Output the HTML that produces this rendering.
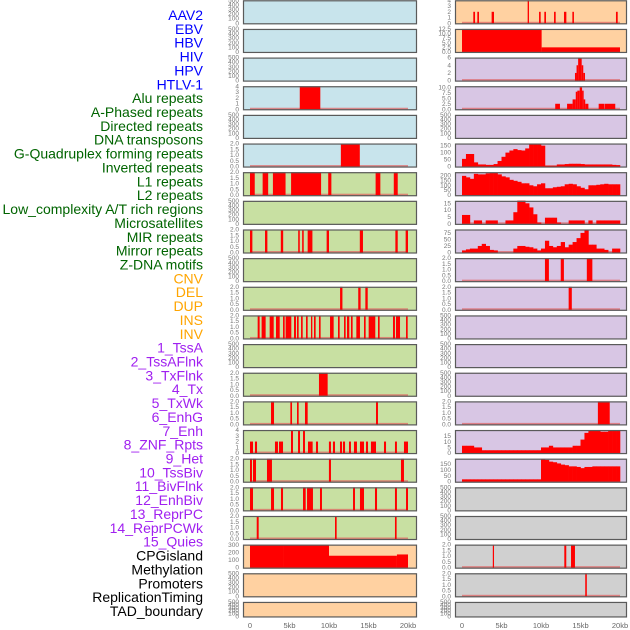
<!DOCTYPE html>
<html><head><meta charset="utf-8"><style>
body{margin:0;background:#fff;width:630px;height:630px;overflow:hidden}
svg{display:block;font-family:"Liberation Sans",sans-serif}
</style></head><body>
<svg id="c" width="630" height="630"></svg>
<script>
const labels=["AAV2","EBV","HBV","HIV","HPV","HTLV-1","Alu repeats","A-Phased repeats","Directed repeats","DNA transposons","G-Quadruplex forming repeats","Inverted repeats","L1 repeats","L2 repeats","Low_complexity A/T rich regions","Microsatellites","MIR repeats","Mirror repeats","Z-DNA motifs","CNV","DEL","DUP","INS","INV","1_TssA","2_TssAFlnk","3_TxFlnk","4_Tx","5_TxWk","6_EnhG","7_Enh","8_ZNF_Rpts","9_Het","10_TssBiv","11_BivFlnk","12_EnhBiv","13_ReprPC","14_ReprPCWk","15_Quies","CPGisland","Methylation","Promoters","ReplicationTiming","TAD_boundary"];
const labelGroups=[6,13,5,15,5];
const groupColors=["#0000ff","#006400","#ffa500","#a020f0","#000000"];
const panelFills=["#c8e4ec","#c8e0a2","#ffd1a1","#d8c6e4","#d0d0d0"];
const xTickLabels=["0","5kb","10kb","15kb","20kb"];
const xTickValues=[0,5,10,15,20];
const hivSegs=[[6.3,8.9,4]];
const htlvSegs=[[11.5,13.9,2]];
const aluSegs=[[0,0.6,2],[1.6,2.3,2],[2.9,4.5,2],[5.2,9.0,2],[9.9,10.3,2],[15.9,16.5,2],[18.2,18.7,2]];
const directedSegs=[[0,0.3,2],[1.9,2.2,2],[3.9,4.2,2],[6.1,6.3,2],[6.6,6.8,2],[7.3,7.9,2],[9.7,10,2],[13.9,14.3,2],[18.4,18.7,2],[19.7,20,2]];
const gquadSegs=[[11.4,11.7,2],[13.7,14.0,2],[14.6,14.9,2]];
const invertedSegs=[[0.97,1.22,2],[1.47,1.98,2],[2.49,3.0,2],[3.29,3.76,2],[4.18,4.39,2],[4.51,5.23,2],[5.57,5.82,2],[5.95,6.16,2],[6.46,6.67,2],[7.09,7.3,2],[7.72,7.89,2],[8.1,8.31,2],[8.73,8.94,2],[10.13,10.59,2],[11.14,11.35,2],[11.9,12.11,2],[12.28,12.57,2],[12.78,12.99,2],[13.46,13.92,2],[14.43,14.64,2],[15.02,15.86,2],[16.2,16.41,2],[18.1,18.35,2],[18.48,18.99,2],[19.75,19.96,2]];
const l2Segs=[[8.73,9.83,2]];
const microSegs=[[2.66,3.04,2],[5.11,5.32,2],[5.95,6.16,2],[6.96,7.3,2],[15.95,16.2,2]];
const mirSegs=[[0,0.38,2],[0.63,0.89,2],[3.16,3.54,2],[3.67,4.18,2],[5.19,5.44,4],[6.08,6.33,4],[6.71,6.96,4],[7.34,7.93,2],[8.35,8.61,2],[9.99,10.25,2],[10.5,10.76,2],[11.39,11.65,2],[11.77,12.03,2],[12.53,12.78,2],[13.16,13.54,2],[13.92,14.43,2],[14.68,14.94,2],[15.31,15.95,2],[16.96,17.22,2],[18.35,18.6,2],[19.49,20,2]];
const mirrorSegs=[[0,0.25,2],[0.38,0.76,2],[2.15,2.78,2],[9.99,10.25,2],[19.11,19.49,2]];
const zdnaSegs=[[0,0.38,2],[2.66,3.04,2],[3.92,4.18,2],[6.71,7.05,2],[7.22,7.97,2],[8.86,9.11,2],[13.04,13.29,2],[13.92,14.43,2],[15.82,16.08,2],[18.35,18.6,2],[19.75,20,2]];
const leftR18Segs=[[0.85,1.1,2],[10.76,10.97,2],[18.35,18.56,2]];
const leftR19Segs=[[0,4.3,300],[4.3,10,300],[10,18.6,158],[18.6,20,175]];
const r0Segs=[[1.43,1.65,2],[1.94,2.15,2],[3.75,4.05,2],[8.31,8.48,4],[9.75,9.96,2],[10.42,10.63,2],[11.65,11.86,2],[12.91,13.21,2],[13.97,14.17,2],[19.49,19.71,2]];
const r1Segs=[[0,10.08,12.5],[10.08,20,2.5]];
const r2Segs=[[14.3,14.5,2],[14.5,14.7,4],[14.7,15.15,6],[15.15,15.35,4],[15.35,15.57,2]];
const r3Segs=[[11.8,12.4,2.5],[13.3,14.0,2.5],[14.0,14.4,4.5],[14.4,14.6,8],[14.6,14.9,8.5],[14.9,15.2,10],[15.2,15.4,8.5],[15.4,15.6,4.5],[15.6,16.0,2.5],[17.3,18.0,2.5],[18.05,19.4,2.5]];
const r9Segs=[[10.5,11.0,2],[12.5,12.9,2],[15.8,16.5,2]];
const r10Segs=[[13.5,13.9,2]];
const r14Segs=[[17.2,18.7,2]];
const r19Segs=[[3.9,4.05,2],[12.95,13.2,2],[13.8,14.3,2]];
const r20Segs=[[15.6,15.8,2]];
const r5Bins=[55,90,90,30,15,15,12,12,18,40,70,100,115,125,118,115,130,160,162,160,150,5,5,5,15,15,18,20,20,20,18,15,15,15,15,15,15,15,12,10];
const r6Bins=[195,180,165,215,210,210,220,225,225,210,190,180,155,145,135,120,120,100,90,110,120,70,70,80,85,90,110,115,110,90,75,60,100,100,105,110,115,110,110,110];
const r7Bins=[6.5,6.5,0,2.5,2.5,0,2.5,2.5,2.5,0,0,2.5,2.5,8.5,17,17,15,12,7,1,0,4.5,4.5,4.5,1,0,0,2.5,2.5,2.5,2.5,0,2.5,0,2.5,2.5,2.5,2.5,2.5,2.5];
const r8Bins=[8,12,15,15,25,33,25,10,8,0,0,0,0,15,25,25,22,20,15,8,15,45,25,20,25,40,20,30,40,55,75,85,30,30,15,15,10,0,15,15];
const r15Bins=[6.5,6.5,6.5,5,5,2.5,2.5,2.5,2.5,2.5,2.5,2.5,2.5,2.5,2.5,2.5,2.5,2.5,2.5,2.5,5,5,6.5,5,5,5,5,5,6.5,6.5,12,18,20,20,20,19,19,20,20,20];
const r16Bins=[20,20,20,20,20,20,20,20,20,20,20,20,20,20,20,20,20,20,20,20,190,185,170,165,155,145,140,130,130,125,115,125,125,130,130,130,130,130,130,130];
const tE=[0,100,200,300,400,500],t2=[0,0.5,1,1.5,2],t4=[0,1,2,3,4];
const tracks=[
[null,null,500,tE,0],[null,null,500,tE,0],[null,null,500,tE,0],[hivSegs,null,4,t4,0],[null,null,500,tE,0],[htlvSegs,null,2,t2,1],
[aluSegs,null,2,t2,1],[null,null,500,tE,0],[directedSegs,null,2,t2,1],[null,null,500,tE,0],[gquadSegs,null,2,t2,1],[invertedSegs,null,2,t2,1],[null,null,500,tE,0],[l2Segs,null,2,t2,1],[microSegs,null,2,t2,1],[mirSegs,null,4,t4,0],[mirrorSegs,null,2,t2,1],[zdnaSegs,null,2,t2,1],[leftR18Segs,null,2,t2,1],
[leftR19Segs,null,305,[0,100,200,300],0],[null,null,500,tE,0],[null,null,500,tE,0],
[r0Segs,null,4,t4,0],[r1Segs,null,12.5,[0,2.5,5,7.5,10,12.5],1],[r2Segs,null,6,[0,2,4,6],0],[r3Segs,null,10.5,[0,2.5,5,7.5,10],1],[null,null,500,tE,0],
[null,r5Bins,165,[0,50,100,150],0],[null,r6Bins,232,[0,50,100,150,200],0],[null,r7Bins,16.8,[0,5,10,15],0],[null,r8Bins,88,[0,25,50,75],0],
[r9Segs,null,2,t2,1],[r10Segs,null,2,t2,1],[null,null,500,tE,0],[null,null,500,tE,0],[null,null,500,tE,0],[r14Segs,null,2,t2,1],
[null,r15Bins,20.5,[0,5,10,15],0],[null,r16Bins,195,[0,50,100,150],0],
[null,null,500,tE,0],[null,null,500,tE,0],[r19Segs,null,2,t2,1],[r20Segs,null,2,t2,1],[null,null,500,tE,0]];
const fillIdx=[0,0,0,0,0,0,1,1,1,1,1,1,1,1,1,1,1,1,1,2,2,2,2,2,3,3,3,3,3,3,3,3,3,3,3,3,3,3,3,4,4,4,4,4];

const svg=document.getElementById('c');const NS='http://www.w3.org/2000/svg';
function mk(t,a,p){const e=document.createElementNS(NS,t);for(const k in a)e.setAttribute(k,a[k]);(p||svg).appendChild(e);return e;}
let gi=0,cnt=0;
labels.forEach((l,i)=>{
  while(cnt>=labelGroups[gi]){cnt-=labelGroups[gi];gi++;}
  const t=mk('text',{x:203,y:15+i*13.86+5,'text-anchor':'end','font-size':14,fill:groupColors[gi]});
  t.textContent=l;
  
  
  cnt++;
});
function drawPanel(ti,px,pw,x0,top,h){
  const [segs,bins,yMax,ticks,dec]=tracks[ti];
  const g=mk('g',{});
  
  
  mk('rect',{x:px,y:top,width:pw,height:h,fill:panelFills[fillIdx[ti]]},g);
  const bot=top+h-1;const sy=v=>bot-v/yMax*(h-1);const sx=k=>x0+k*7.9;
  if(segs||bins){
    mk('rect',{x:sx(0),y:bot-1.5,width:sx(20)-sx(0),height:2,fill:'#e06060',opacity:0.7},g);
  }
  if(segs)segs.forEach(s=>{if(s[2]<=0)return;const r=mk('rect',{x:sx(s[0]),y:sy(s[2]),width:Math.max(1.2,sx(s[1])-sx(s[0])),height:bot-sy(s[2]),fill:'#ff0000'},g);
    
    });
  if(bins)bins.forEach((v,i)=>{if(v<=0)return;const r=mk('rect',{x:sx(i*0.5),y:sy(v),width:sx(0.5)-sx(0)+0.3,height:bot-sy(v),fill:'#ff0000'},g);
    
    });
  mk('rect',{x:px+0.5,y:top+0.5,width:pw-1,height:h-1,fill:'none',stroke:'#5a5a5a','stroke-width':1.2},g);
  ticks.forEach(t=>{const tx=mk('text',{x:px-4,y:sy(t)+2,'text-anchor':'end','font-size':6.5,fill:'#777'},g);tx.textContent=t.toFixed(dec);
    
    });
}
for(let r=0;r<22;r++){
  const top=r*28.65+0.3;const h=r===21?15.5:24;
  drawPanel(r,243,174,250,top,h);
  drawPanel(22+r,455,172,462,top,h);
}
[250,462].forEach((x0,ci)=>{xTickValues.forEach((v,i)=>{const t=mk('text',{x:x0+v*7.9,y:628,'text-anchor':'middle','font-size':7.5,fill:'#666'});t.textContent=xTickLabels[i];
  
  });});
</script>
</body></html>
